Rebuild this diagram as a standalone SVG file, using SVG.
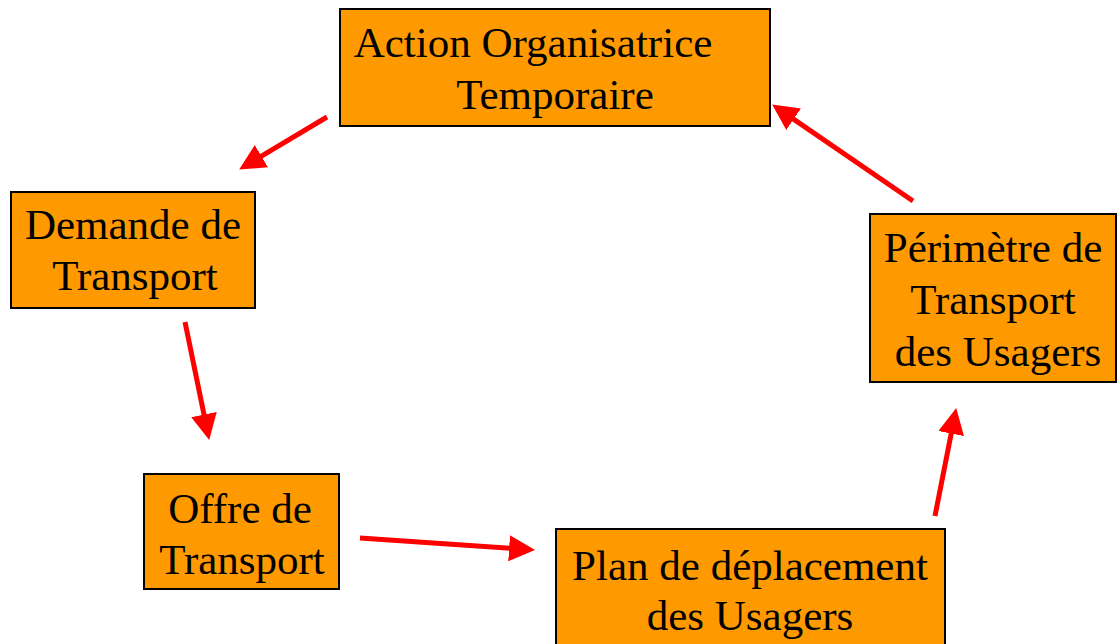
<svg xmlns="http://www.w3.org/2000/svg" width="1117" height="644" viewBox="0 0 1117 644">
<style>
.box{fill:#FF9900;stroke:#000;stroke-width:2}
.lbl{font-family:"Liberation Serif","Times New Roman",serif;font-size:43px;fill:#000;text-anchor:middle}
.conn{stroke:#FF0000;stroke-width:5;fill:none;marker-end:url(#ah)}
</style>
<defs>
<marker id="ah" markerUnits="userSpaceOnUse" markerWidth="27" markerHeight="27" refX="1" refY="13" orient="auto">
<path d="M0,0 L26,13 L0,26 z" fill="#FF0000"/>
</marker>
</defs>
<rect width="1117" height="644" fill="#fff"/>
<g id="action">
<rect class="box" x="340" y="9" width="430" height="117"/>
<text class="lbl" x="533" y="57">Action Organisatrice</text>
<text class="lbl" x="555" y="109">Temporaire</text>
</g>
<g id="demande">
<rect class="box" x="11" y="192" width="244" height="116"/>
<text class="lbl" x="133" y="239">Demande de</text>
<text class="lbl" x="135" y="290">Transport</text>
</g>
<g id="perimetre">
<rect class="box" x="870" y="214" width="246" height="168"/>
<text class="lbl" x="993" y="262">Périmètre de</text>
<text class="lbl" x="993" y="314">Transport</text>
<text class="lbl" x="998" y="366">des Usagers</text>
</g>
<g id="offre">
<rect class="box" x="144" y="474" width="195" height="115"/>
<text class="lbl" x="240" y="523">Offre de</text>
<text class="lbl" x="242" y="574">Transport</text>
</g>
<g id="plan">
<rect class="box" x="556" y="529" width="389" height="125"/>
<text class="lbl" x="750" y="580">Plan de déplacement</text>
<text class="lbl" x="750" y="630">des Usagers</text>
</g>
<g id="connectors">
<line class="conn" x1="327" y1="117" x2="260.6" y2="156.7"/>
<line class="conn" x1="185" y1="322" x2="204.2" y2="415.5"/>
<line class="conn" x1="360" y1="538" x2="510.1" y2="548.3"/>
<line class="conn" x1="935" y1="516" x2="951.4" y2="432.6"/>
<line class="conn" x1="913" y1="201" x2="792.8" y2="118.6"/>
</g>
</svg>
